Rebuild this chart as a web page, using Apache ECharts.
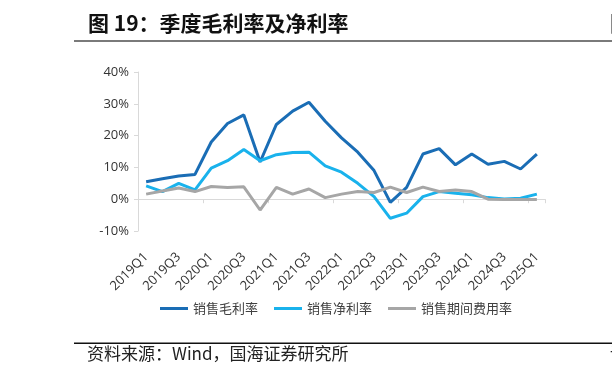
<!DOCTYPE html>
<html>
<head>
<meta charset="utf-8">
<script src="https://cdn.jsdelivr.net/npm/echarts@6/dist/echarts.min.js"></script>
<style>
html,body{margin:0;padding:0;background:#fff;}
#chart{width:612px;height:379px;}
</style>
</head>
<body>
<div id="chart"></div>
<script>
var categories = ['2019Q1','2019Q2','2019Q3','2019Q4','2020Q1','2020Q2','2020Q3','2020Q4',
  '2021Q1','2021Q2','2021Q3','2021Q4','2022Q1','2022Q2','2022Q3','2022Q4',
  '2023Q1','2023Q2','2023Q3','2023Q4','2024Q1','2024Q2','2024Q3','2024Q4','2025Q1'];
var grossMargin = [5.5, 6.4, 7.3, 7.8, 18.0, 23.8, 26.5, 11.7, 23.5, 27.7, 30.5, 24.5, 19.3, 14.8, 9.0, -1.0, 3.7, 14.2, 15.9, 10.8, 14.2, 11.0, 11.9, 9.5, 14.2];
var netMargin = [4.2, 2.4, 5.0, 2.9, 9.8, 12.1, 15.6, 12.1, 14.0, 14.7, 14.8, 10.5, 8.5, 5.0, 0.8, -6.0, -4.4, 0.8, 2.4, 1.9, 1.4, 0.5, 0.1, 0.3, 1.6];
var expenseRate = [1.6, 2.6, 3.5, 2.4, 4.0, 3.7, 3.9, -3.4, 3.7, 1.6, 3.2, 0.5, 1.6, 2.4, 2.1, 3.8, 2.1, 3.8, 2.4, 2.9, 2.4, 0.0, -0.1, -0.1, -0.1];
var seriesNames = ['销售毛利率', '销售净利率', '销售期间费用率'];
var yTicks = {min: -10, max: 40, interval: 10};

var chart = echarts.init(document.getElementById('chart'), null, {renderer: 'canvas'});
var axisGray = '#d9d9d9';
var option = {
  animation: false,
  backgroundColor: '#ffffff',
  color: ['#1a6db5', '#19b2ec', '#a6a6a6'],
  grid: {left: 138, right: 67, top: 72, bottom: 148, containLabel: false},
  xAxis: [{
    type: 'category',
    data: categories,
    boundaryGap: true,
    position: 'bottom',
    axisLine: {show: false, onZero: false},
    axisTick: {show: false},
    axisLabel: {
      rotate: 45, interval: 1, margin: 24,
      fontSize: 13, color: '#333', fontFamily: 'Open Sans, Noto Sans, sans-serif'
    },
    splitLine: {show: false}
  }, {
    type: 'category',
    data: categories,
    boundaryGap: true,
    position: 'bottom',
    axisLine: {show: true, onZero: true, lineStyle: {color: axisGray, width: 1}},
    axisTick: {show: true, length: 4, lineStyle: {color: axisGray}},
    axisLabel: {show: false},
    splitLine: {show: false}
  }],
  yAxis: {
    type: 'value',
    min: yTicks.min, max: yTicks.max, interval: yTicks.interval,
    axisLine: {show: true, lineStyle: {color: axisGray, width: 1}},
    axisTick: {show: true, length: 4, lineStyle: {color: axisGray}},
    axisLabel: {
      formatter: '{value}%', margin: 9,
      fontSize: 13, color: '#333', fontFamily: 'Open Sans, Noto Sans, sans-serif'
    },
    splitLine: {show: false}
  },
  legend: {
    data: seriesNames,
    left: 155, top: 297,
    icon: 'rect', itemWidth: 28, itemHeight: 3, itemGap: 16,
    textStyle: {fontSize: 13, color: '#404040', fontFamily: 'Noto Sans CJK SC, sans-serif'}
  },
  series: [
    {name: seriesNames[0], type: 'line', xAxisIndex: 0, data: grossMargin, showSymbol: false, symbol: 'none', lineStyle: {width: 3}},
    {name: seriesNames[1], type: 'line', xAxisIndex: 0, data: netMargin, showSymbol: false, symbol: 'none', lineStyle: {width: 3}},
    {name: seriesNames[2], type: 'line', xAxisIndex: 0, data: expenseRate, showSymbol: false, symbol: 'none', lineStyle: {width: 3}}
  ],
  graphic: [
    {type: 'text', left: 88, top: 13, style: {text: '图 19：季度毛利率及净利率', font: 'bold 21px "Noto Sans CJK SC", sans-serif', fill: '#111'}},
    {type: 'text', left: 610, top: 13, style: {text: '图', font: 'bold 21px "Noto Sans CJK SC", sans-serif', fill: '#111'}},
    {type: 'rect', shape: {x: 74, y: 40, width: 538, height: 2}, style: {fill: '#7a7a7a'}},
    {type: 'rect', shape: {x: 74, y: 342.5, width: 538, height: 1.5}, style: {fill: '#111'}},
    {type: 'text', left: 87, top: 345, style: {text: '资料来源：Wind，国海证券研究所', font: '17px "Noto Sans CJK SC", sans-serif', fill: '#222'}},
    {type: 'text', left: 610, top: 345, style: {text: '请', font: '17px "Noto Sans CJK SC", sans-serif', fill: '#222'}}
  ]
};
chart.setOption(option);
</script>
</body>
</html>
